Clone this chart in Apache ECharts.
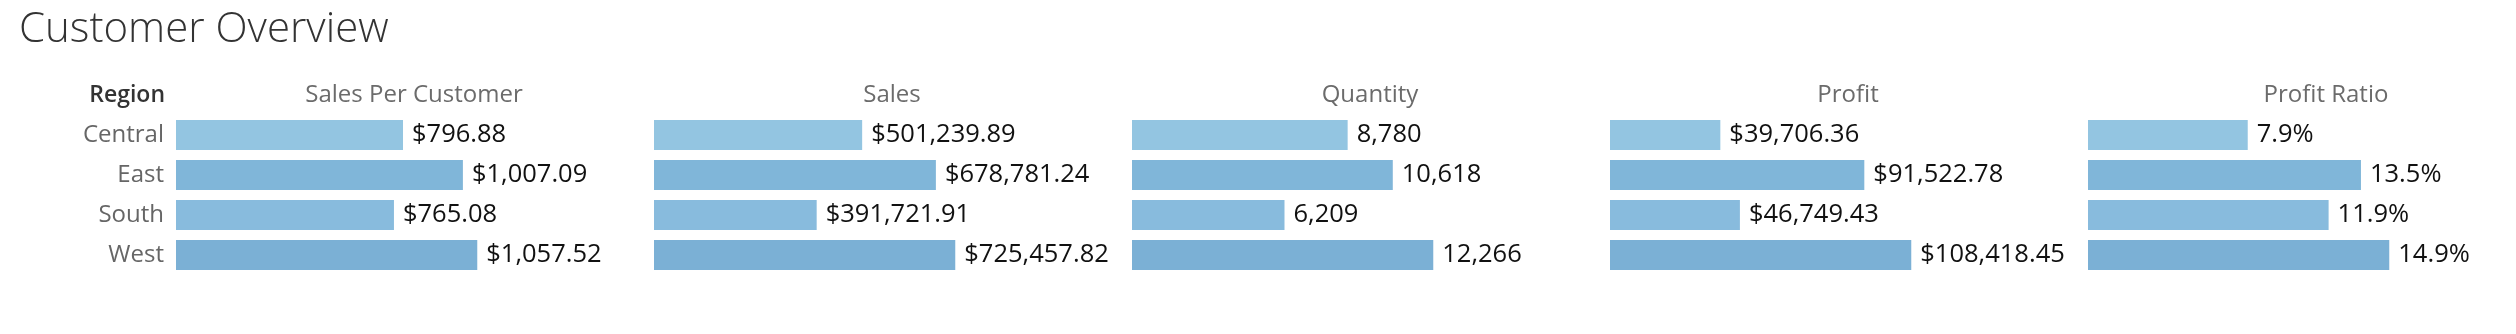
<!DOCTYPE html>
<html>
<head>
<meta charset="utf-8">
<script src="https://cdn.jsdelivr.net/npm/echarts@6/dist/echarts.min.js"></script>
<style>
  html, body { margin: 0; padding: 0; background: #ffffff; overflow: hidden; width: 2516px; height: 334px; }
  #chart { width: 2600px; height: 334px; }
</style>
</head>
<body>
<div id="chart"></div>
<script>
const regions = ['Central', 'East', 'South', 'West'];
const salesPerCustomer = [796.88, 1007.09, 765.08, 1057.52];
const sales = [501239.89, 678781.24, 391721.91, 725457.82];
const quantity = [8780, 10618, 6209, 12266];
const profit = [39706.36, 91522.78, 46749.43, 108418.45];
const profitRatio = [7.9, 13.5, 11.9, 14.9];
const measureNames = ['Sales Per Customer', 'Sales', 'Quantity', 'Profit', 'Profit Ratio'];
const regionColors = ['#93c5e1', '#80b6d9', '#88bbdd', '#7bb0d5'];

const money = v => '$' + v.toLocaleString('en-US', { minimumFractionDigits: 2, maximumFractionDigits: 2 });
const count = v => v.toLocaleString('en-US', { maximumFractionDigits: 0 });
const pct = v => v.toFixed(1) + '%';

const measures = [
  { name: measureNames[0], values: salesPerCustomer, fmt: money },
  { name: measureNames[1], values: sales, fmt: money },
  { name: measureNames[2], values: quantity, fmt: count },
  { name: measureNames[3], values: profit, fmt: money },
  { name: measureNames[4], values: profitRatio, fmt: pct }
];

const FONT = '"Open Sans", "Noto Sans", sans-serif';
const PANEL_LEFT = 176, PANEL_STEP = 478, PANEL_W = 476;

const grids = [], xAxes = [], yAxes = [], series = [];
measures.forEach((m, i) => {
  grids.push({ left: PANEL_LEFT + i * PANEL_STEP, width: PANEL_W, top: 115, height: 160, containLabel: false });
  xAxes.push({
    gridIndex: i, type: 'value', min: 0, max: v => v.max * 1.58, position: 'top',
    name: m.name, nameLocation: 'middle', nameGap: 8,
    nameTextStyle: { color: '#6b6b6b', fontSize: 24, fontFamily: FONT },
    axisLine: { show: false }, axisTick: { show: false }, axisLabel: { show: false }, splitLine: { show: false }
  });
  yAxes.push({
    gridIndex: i, type: 'category', data: regions, inverse: true,
    axisLine: { show: false }, axisTick: { show: false },
    axisLabel: { show: i === 0, color: '#666666', fontSize: 24, fontFamily: FONT, margin: 12 }
  });
  series.push({
    type: 'bar', xAxisIndex: i, yAxisIndex: i, barWidth: 30,
    data: m.values.map((v, k) => ({ value: v, itemStyle: { color: regionColors[k] } })),
    label: {
      show: true, position: 'right', distance: 9, color: '#111111', fontSize: 25.5, fontFamily: FONT,
      formatter: p => m.fmt(p.value)
    },
    silent: true, animation: false
  });
});

const chart = echarts.init(document.getElementById('chart'), null, { renderer: 'canvas' });
chart.setOption({
  backgroundColor: '#ffffff',
  animation: false,
  title: [
    { text: 'Customer Overview', left: 19, top: 9, padding: 0,
      textStyle: { color: '#333333', fontSize: 42, fontWeight: 300, fontFamily: FONT } },
    { text: 'Region', left: 165, top: 84, padding: 0, textAlign: 'right',
      textStyle: { color: '#333333', fontSize: 23, fontWeight: 600, fontFamily: FONT } }
  ],
  grid: grids,
  xAxis: xAxes,
  yAxis: yAxes,
  series: series
});
</script>
</body>
</html>
